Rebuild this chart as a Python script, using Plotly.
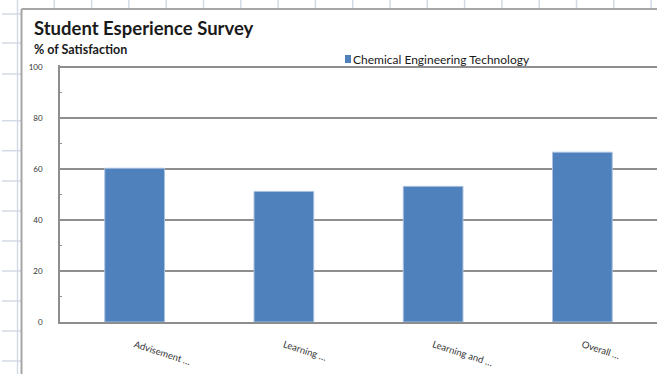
import plotly.graph_objects as go

categories = ["Advisement …", "Learning …", "Learning and …", "Overall …"]
satisfaction = [60.3, 51.2, 53.2, 66.6]
series_name = "Chemical Engineering Technology"
y_ticks = [0, 20, 40, 60, 80, 100]
title_text = "Student Esperience Survey"
subtitle_text = "% of Satisfaction"

W, H = 657, 374
ML, MR, MT, MB = 60, 0, 65, 52
PW, PH = W - ML - MR, H - MT - MB
YMAX = 100.8


def px(x):
    return (x - ML) / PW


def py(y):
    return (H - MB - y) / PH


BAR = "#4F81BD"
GRID = "#8E8E8E"
SHEET = "#D3DAE6"
FONT = "Lato, 'Open Sans', sans-serif"

fig = go.Figure()
fig.add_trace(go.Bar(
    x=categories, y=satisfaction, name=series_name,
    marker=dict(color=BAR, line=dict(color="#A9C0DE", width=1)),
    showlegend=False,
))

shapes = []
# worksheet grid visible around the chart
xg = 54.3
while xg < W:
    shapes.append(dict(type="line", xref="paper", yref="paper",
                       x0=px(xg), x1=px(xg), y0=py(0), y1=py(9),
                       line=dict(color=SHEET, width=1.5)))
    xg += 37.3
for yg in [14, 43, 74, 120.7, 150.7, 181, 211, 241, 271, 301, 331, 361]:
    shapes.append(dict(type="line", xref="paper", yref="paper",
                       x0=px(2), x1=px(21), y0=py(yg), y1=py(yg),
                       line=dict(color=SHEET, width=1.5)))
shapes.append(dict(type="line", xref="paper", yref="paper",
                   x0=px(17.5), x1=px(17.5), y0=py(0), y1=py(H),
                   line=dict(color=SHEET, width=1.5)))
# chart frame
shapes.append(dict(type="line", xref="paper", yref="paper",
                   x0=px(21.5), x1=px(W + 5), y0=py(9), y1=py(9),
                   line=dict(color="#A6A6A6", width=2)))
shapes.append(dict(type="line", xref="paper", yref="paper",
                   x0=px(21.5), x1=px(21.5), y0=py(9), y1=py(H + 5),
                   line=dict(color="#A6A6A6", width=2)))
# legend key
shapes.append(dict(type="rect", xref="paper", yref="paper",
                   x0=px(345), x1=px(351), y0=py(55), y1=py(63),
                   fillcolor=BAR, line=dict(width=0)))

annotations = [
    dict(text=f"<b>{title_text}</b>", xref="paper", yref="paper",
         x=px(32), y=py(28), xanchor="left", yanchor="middle", showarrow=False,
         font=dict(family=FONT, size=18.5, color="#1A1A1A")),
    dict(text=f"<b>{subtitle_text}</b>", xref="paper", yref="paper",
         x=px(32), y=py(49), xanchor="left", yanchor="middle", showarrow=False,
         font=dict(family=FONT, size=12.5, color="#1A1A1A")),
    dict(text=series_name, xref="paper", yref="paper",
         x=px(351), y=py(59), xanchor="left", yanchor="middle", showarrow=False,
         font=dict(family=FONT, size=12, color="#1A1A1A")),
]

fig.update_layout(
    width=W, height=H,
    margin=dict(l=ML, r=MR, t=MT, b=MB, pad=0),
    paper_bgcolor="white", plot_bgcolor="white",
    bargap=0.6,
    shapes=shapes, annotations=annotations,
    font=dict(family=FONT, color="#333333"),
)
fig.update_xaxes(
    type="category", range=[-0.5, 3.5],
    showline=True, linecolor=GRID, linewidth=1.5,
    showgrid=False, ticks="", tickangle=18,
    tickfont=dict(family=FONT, size=9.5, color="#333333"),
    ticklabelstandoff=12,
)
fig.update_yaxes(
    range=[0, YMAX], tickvals=y_ticks, ticktext=[str(v) for v in y_ticks],
    showline=True, linecolor=GRID, linewidth=1.5,
    showgrid=True, gridcolor=GRID, gridwidth=1.5,
    zeroline=False, ticks="",
    minor=dict(ticks="inside", ticklen=2, tickcolor=GRID, dtick=10, showgrid=False),
    tickfont=dict(family=FONT, size=8, color="#333333"),
    ticklabelstandoff=14,
)

fig.write_html("out.html")
